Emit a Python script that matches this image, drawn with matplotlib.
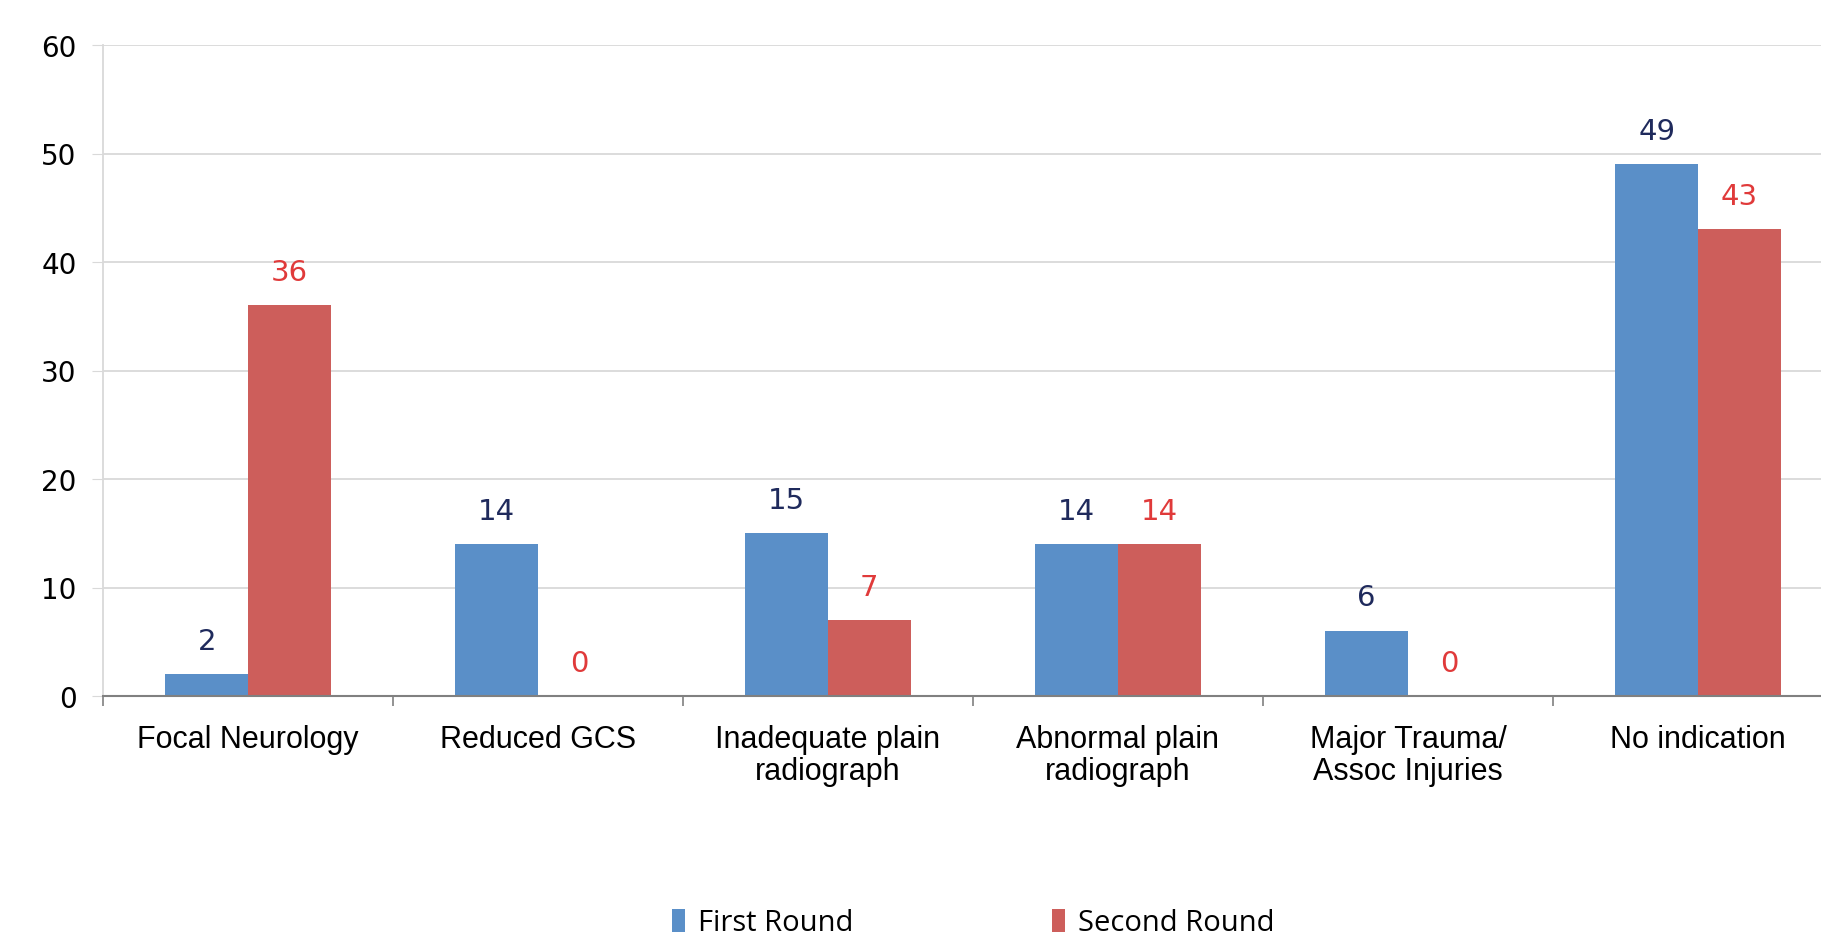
import numpy as np
import matplotlib.pyplot as plt

# data
categories = ['Focal Neurology', 'Reduced GCS', 'Inadequate plain\nradiograph',
              'Abnormal plain\nradiograph', 'Major Trauma/\nAssoc Injuries', 'No indication']
first_round = [2, 14, 15, 14, 6, 49]
second_round = [36, 0, 7, 14, 0, 43]
yticks = [0, 10, 20, 30, 40, 50, 60]

blue = '#5A8FC8'
red = '#CD5E5B'

fig = plt.figure(figsize=(18.21, 9.37), dpi=100)
ax = fig.add_axes([103/1821, 240/937, 1740/1821, 651/937])

x = np.arange(len(categories))
w = 0.285
b1 = ax.bar(x - w/2, first_round, w, color=blue, label='First Round')
b2 = ax.bar(x + w/2, second_round, w, color=red, label='Second Round')

# value labels
for rect, v in zip(b1, first_round):
    ax.annotate(str(v), (rect.get_x() + rect.get_width()/2, v), xytext=(0, 14),
                textcoords='offset points', ha='center', va='bottom',
                fontsize=21, color='#1F2A5C', family='DejaVu Sans')
for rect, v in zip(b2, second_round):
    ax.annotate(str(v), (rect.get_x() + rect.get_width()/2, v), xytext=(0, 14),
                textcoords='offset points', ha='center', va='bottom',
                fontsize=21, color='#E03A3A', family='DejaVu Sans')

ax.set_xlim(-0.5, len(categories) - 0.5)
ax.set_ylim(0, 60)
ax.set_yticks(yticks)
ax.set_yticklabels([str(t) for t in yticks], fontsize=20, family='DejaVu Sans')
ax.tick_params(axis='y', length=8, pad=11, color='#D9D9D9')

ax.set_xticks(x)
ax.set_xticklabels(categories, fontsize=22, family='Liberation Sans', linespacing=1.1)
ax.set_xticks(np.arange(len(categories) + 1) - 0.5, minor=True)
ax.tick_params(axis='x', which='major', length=0, pad=20)
ax.tick_params(axis='x', which='minor', length=7, color='#808080', width=1.2)

ax.grid(axis='y', color='#D9D9D9', linewidth=1.3)
ax.set_axisbelow(True)
for s in ['top', 'right']:
    ax.spines[s].set_visible(False)
ax.spines['left'].set_color('#D9D9D9')
ax.spines['left'].set_linewidth(1.3)
ax.spines['bottom'].set_color('#808080')
ax.spines['bottom'].set_linewidth(1.5)

fig.legend(loc='center', bbox_to_anchor=(973/1821, 13/937), ncol=2, frameon=False,
           prop={'family': 'Open Sans', 'size': 21}, handlelength=0.45, handleheight=0.8,
           handletextpad=0.45, columnspacing=6.8)

fig.savefig('out.png', dpi=100)
